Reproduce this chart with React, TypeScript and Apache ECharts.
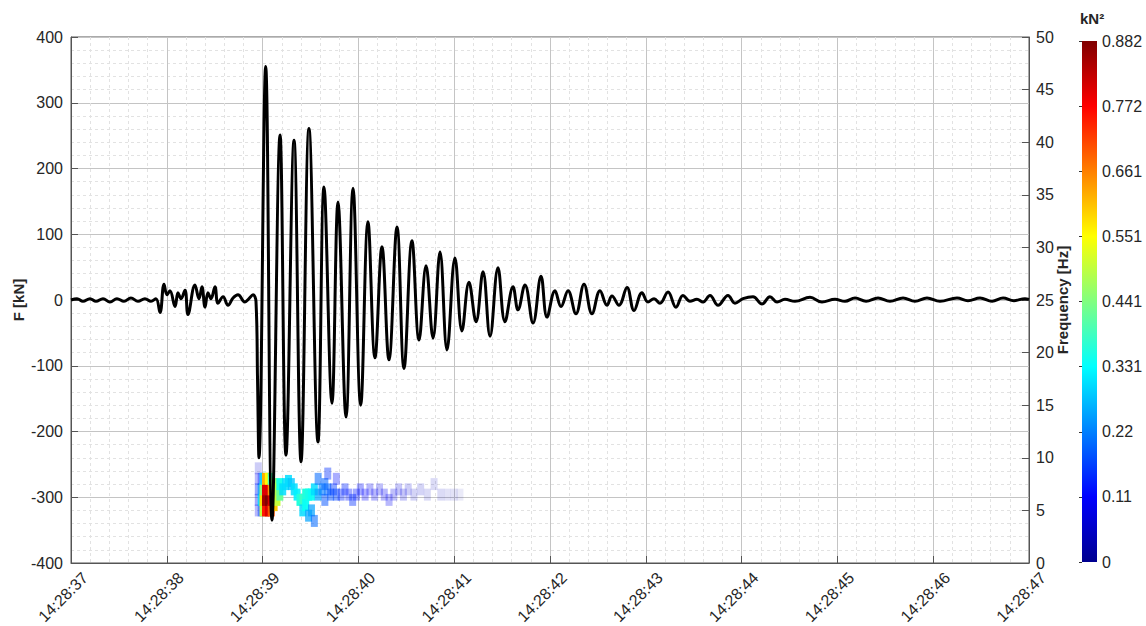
import React, { useEffect, useRef } from "react";
import * as echarts from "echarts";

// ---------- data ----------
const xTickLabels = [
  "14:28:37", "14:28:38", "14:28:39", "14:28:40", "14:28:41", "14:28:42",
  "14:28:43", "14:28:44", "14:28:45", "14:28:46", "14:28:47",
];

// force signal: time [s after 14:28:37] and force [kN], read at extrema
const forceTime = [
  0.0, 0.063, 0.125, 0.198, 0.261, 0.334, 0.407, 0.48, 0.553, 0.626,
  0.699, 0.772, 0.835, 0.887, 0.929, 0.971, 1.002, 1.033, 1.086, 1.117,
  1.148, 1.19, 1.221, 1.294, 1.336, 1.367, 1.399, 1.43, 1.461, 1.503,
  1.534, 1.587, 1.639, 1.691, 1.743, 1.816, 1.858, 1.9, 1.931, 1.947,
  1.962, 2.032, 2.098, 2.182, 2.244, 2.328, 2.401, 2.484, 2.578, 2.641,
  2.724, 2.787, 2.871, 2.944, 3.024, 3.1, 3.173, 3.246, 3.319, 3.403,
  3.476, 3.559, 3.633, 3.706, 3.779, 3.852, 3.925, 4.008, 4.081, 4.154,
  4.228, 4.301, 4.374, 4.457, 4.53, 4.614, 4.666, 4.739, 4.823, 4.906,
  4.969, 5.052, 5.115, 5.188, 5.271, 5.355, 5.438, 5.522, 5.595, 5.647,
  5.72, 5.804, 5.877, 5.96, 6.023, 6.086, 6.148, 6.232, 6.315, 6.388,
  6.461, 6.534, 6.597, 6.67, 6.754, 6.858, 6.931, 7.015, 7.119, 7.213,
  7.296, 7.37, 7.453, 7.557, 7.714, 7.839, 7.975, 8.079, 8.184, 8.299,
  8.424, 8.549, 8.685, 8.81, 8.935, 9.071, 9.248, 9.363, 9.489, 9.614,
  9.729, 9.843, 9.958, 10.0,
];
const forceKN = [
  0, 2, -2, 2, -2, 2, -3, 2, -2, 3,
  -2, 2, -2, 2, -19, 24, 8, 14, -10, 11,
  2, 15, -22, 23, 2, 20, -11, 11, 2, 20,
  -5, 5, -8, 3, 8, -3, 2, 8, -2, -120,
  -240, 355, -335, 251, -236, 243, -246, 261, -216, 172,
  -157, 149, -178, 170, -160, 119, -88, 81, -91, 111,
  -104, 90, -61, 52, -58, 73, -76, 64, -47, 27,
  -33, 43, -55, 49, -33, 20, -15, 23, -35, 36,
  -26, 14, -10, 14, -21, 24, -21, 14, -8, 6,
  -8, 19, -16, 11, -3, 2, -5, 12, -11, 7,
  -2, 1, -3, 7, -8, 7, -5, 2, 5, -6,
  5, -3, 1, -2, 4, -3, 1, -2, 3, -2,
  3, -2, 3, -2, 3, -2, 3, -1, 3, -2,
  3, -1, 2, 1,
];

// spectrogram cells: [time s, frequency Hz, power kN^2]
const spectrogramCells: [number, number, number][] = [
  [1.955, 5.0, 0.1], [1.955, 6.0, 0.13], [1.955, 7.0, 0.14], [1.955, 8.0, 0.1], [1.955, 9.0, 0.07],
  [1.985, 5.0, 0.18], [1.985, 6.0, 0.3], [1.985, 7.0, 0.25], [1.985, 8.0, 0.14],
  [2.005, 5.0, 0.5], [2.005, 6.0, 0.58], [2.005, 7.0, 0.45], [2.005, 8.0, 0.3],
  [2.03, 5.0, 0.75], [2.03, 6.0, 0.85], [2.03, 7.0, 0.8], [2.03, 8.0, 0.62],
  [2.06, 5.0, 0.8], [2.06, 6.0, 0.88], [2.06, 7.0, 0.8], [2.06, 8.0, 0.55],
  [2.09, 5.0, 0.7], [2.09, 6.0, 0.8], [2.09, 7.0, 0.65], [2.09, 8.0, 0.4],
  [2.12, 5.5, 0.6], [2.12, 6.5, 0.6], [2.12, 7.5, 0.45],
  [2.15, 6.0, 0.5], [2.15, 7.0, 0.48],
  [2.18, 6.5, 0.42], [2.18, 7.5, 0.35],
  [2.21, 7.0, 0.3], [2.24, 7.5, 0.3], [2.27, 7.8, 0.3], [2.30, 7.5, 0.28],
  [2.33, 7.0, 0.3], [2.36, 6.5, 0.32],
  [2.39, 6.0, 0.36], [2.42, 6.0, 0.38], [2.42, 5.0, 0.3], [2.45, 6.5, 0.36],
  [2.45, 5.5, 0.34], [2.48, 6.5, 0.35], [2.48, 4.5, 0.25], [2.51, 6.5, 0.34],
  [2.51, 5.0, 0.25], [2.54, 7.0, 0.3], [2.54, 4.0, 0.2],
  [2.58, 6.5, 0.25], [2.58, 8.0, 0.2], [2.62, 7.0, 0.22], [2.65, 7.5, 0.2],
  [2.65, 6.0, 0.18], [2.68, 7.0, 0.2], [2.68, 8.5, 0.15], [2.71, 6.5, 0.18],
  [2.74, 7.0, 0.16], [2.77, 6.5, 0.17], [2.77, 8.0, 0.12],
  [2.82, 6.5, 0.14], [2.86, 7.0, 0.14], [2.9, 6.5, 0.13], [2.94, 6.0, 0.15],
  [2.98, 6.5, 0.13], [3.02, 7.0, 0.12],
  [3.07, 6.5, 0.11], [3.12, 7.0, 0.1], [3.17, 6.5, 0.1], [3.22, 7.0, 0.09],
  [3.27, 6.5, 0.1], [3.32, 6.0, 0.1], [3.37, 6.5, 0.09], [3.42, 7.0, 0.08],
  [3.47, 6.5, 0.08], [3.52, 7.0, 0.07],
  [3.58, 6.5, 0.06], [3.65, 7.0, 0.06], [3.72, 6.5, 0.05], [3.79, 7.5, 0.05],
  [3.86, 6.5, 0.05], [3.93, 6.5, 0.04], [4.0, 6.5, 0.04], [4.06, 6.5, 0.03],
];

const colorbarTickLabels = ["0", "0.11", "0.22", "0.331", "0.441", "0.551", "0.661", "0.772", "0.882"];
const powerMax = 0.882;
const jetColors = [
  "#00008f", "#0000ff", "#0080ff", "#00ffff", "#80ff80",
  "#ffff00", "#ff8000", "#ff0000", "#800000",
];

// ---------- component ----------
const FONT = "'Liberation Sans', Arial, sans-serif";
const TXT = "#262626";

export default function App() {
  const ref = useRef<HTMLDivElement>(null);

  useEffect(() => {
    if (!ref.current) return;
    const chart = echarts.init(ref.current, undefined, { renderer: "svg" });

    const forceData = forceTime.map((t, i) => [t, forceKN[i]]);
    const specData = spectrogramCells.map((c) => ({
      value: c,
      itemStyle: { opacity: Math.min(1, c[2] * 2.8) },
    }));

    const gradStops = jetColors.map((c, i) => ({ offset: i / (jetColors.length - 1), color: c }));

    const labelStyle = { fontFamily: FONT, fontSize: 16, color: TXT };
    const nameStyle = { fontFamily: FONT, fontSize: 15, fontWeight: "bold", color: TXT };

    chart.setOption({
      animation: false,
      backgroundColor: "#ffffff",
      grid: [
        {
          left: 71, right: 117, top: 37, bottom: 63,
          show: true, borderColor: "#555", borderWidth: 1, backgroundColor: "transparent",
          containLabel: false, outerBoundsMode: "none",
        },
        { left: 1082, top: 41, width: 15, height: 521, containLabel: false, outerBoundsMode: "none" },
      ],
      xAxis: [
        {
          type: "value",
          gridIndex: 0,
          min: 0,
          max: 10,
          interval: 1,
          axisLine: { show: true, onZero: false, lineStyle: { color: "#555" } },
          axisTick: { show: true, inside: true, length: 7, lineStyle: { color: "#555" } },
          axisLabel: {
            ...labelStyle,
            rotate: 45,
            margin: -2,
            align: "right",
            verticalAlign: "top",
            padding: [12, 0, 0, 0],
            formatter: (v: number) => xTickLabels[Math.round(v)] ?? "",
          },
          splitLine: { show: true, lineStyle: { color: "#c4c4c4", width: 1 } },
          minorTick: { show: false, splitNumber: 5 },
          minorSplitLine: { show: true, lineStyle: { color: "#e2e2e2", type: [3, 3], width: 1 } },
        },
        { type: "value", gridIndex: 1, min: 0, max: 1, show: false },
      ],
      yAxis: [
        {
          type: "value",
          gridIndex: 0,
          min: -400,
          max: 400,
          interval: 100,
          name: "F [kN]",
          nameLocation: "middle",
          nameRotate: 90,
          nameGap: 45,
          nameMoveOverlap: false,
          nameTextStyle: nameStyle,
          axisLine: { show: true, onZero: false, lineStyle: { color: "#555" } },
          axisTick: { show: true, inside: true, length: 7, lineStyle: { color: "#555" } },
          axisLabel: { ...labelStyle, margin: 8 },
          splitLine: { show: true, lineStyle: { color: "#c4c4c4", width: 1 } },
          minorTick: { show: false, splitNumber: 5 },
          minorSplitLine: { show: true, lineStyle: { color: "#e2e2e2", type: [3, 3], width: 1 } },
        },
        {
          type: "value",
          gridIndex: 0,
          position: "right",
          min: 0,
          max: 50,
          interval: 5,
          name: "Frequency [Hz]",
          nameLocation: "middle",
          nameRotate: 90,
          nameGap: 26,
          nameMoveOverlap: false,
          nameTextStyle: nameStyle,
          axisLine: { show: true, onZero: false, lineStyle: { color: "#555" } },
          axisTick: { show: true, inside: true, length: 7, lineStyle: { color: "#555" } },
          axisLabel: { ...labelStyle, margin: 7 },
          splitLine: { show: false },
        },
        {
          type: "value",
          gridIndex: 1,
          position: "right",
          min: 0,
          max: 8,
          interval: 1,
          axisLine: { show: false },
          axisTick: { show: true, inside: true, length: 3, lineStyle: { color: "#333" } },
          axisLabel: {
            ...labelStyle,
            margin: 5,
            formatter: (v: number) => colorbarTickLabels[Math.round(v)] ?? "",
          },
          splitLine: { show: false },
        },
      ],
      visualMap: {
        show: false,
        type: "continuous",
        min: 0,
        max: powerMax,
        dimension: 2,
        seriesIndex: 0,
        inRange: { color: jetColors },
      },
      graphic: [
        {
          type: "rect",
          left: 1082,
          top: 41,
          shape: { width: 15, height: 521 },
          style: {
            fill: new echarts.graphic.LinearGradient(0, 1, 0, 0, gradStops),
          },
          z: 0,
        },
        {
          type: "text",
          left: 1080,
          top: 11,
          style: {
            text: "kN²",
            font: `bold 15px ${FONT}`,
            fill: TXT,
          },
        },
      ],
      series: [
        {
          type: "scatter",
          xAxisIndex: 0,
          yAxisIndex: 1,
          symbol: "rect",
          symbolSize: [7, 12],
          data: specData,
          z: 2,
        },
        {
          type: "line",
          xAxisIndex: 0,
          yAxisIndex: 0,
          data: forceData,
          showSymbol: false,
          smooth: 0.4,
          lineStyle: { color: "#000", width: 3 },
          z: 3,
        },
      ],
    });

    return () => chart.dispose();
  }, []);

  return (
    <div
      ref={ref}
      style={{ position: "absolute", left: 0, top: 0, width: 1146, height: 626 }}
    />
  );
}
